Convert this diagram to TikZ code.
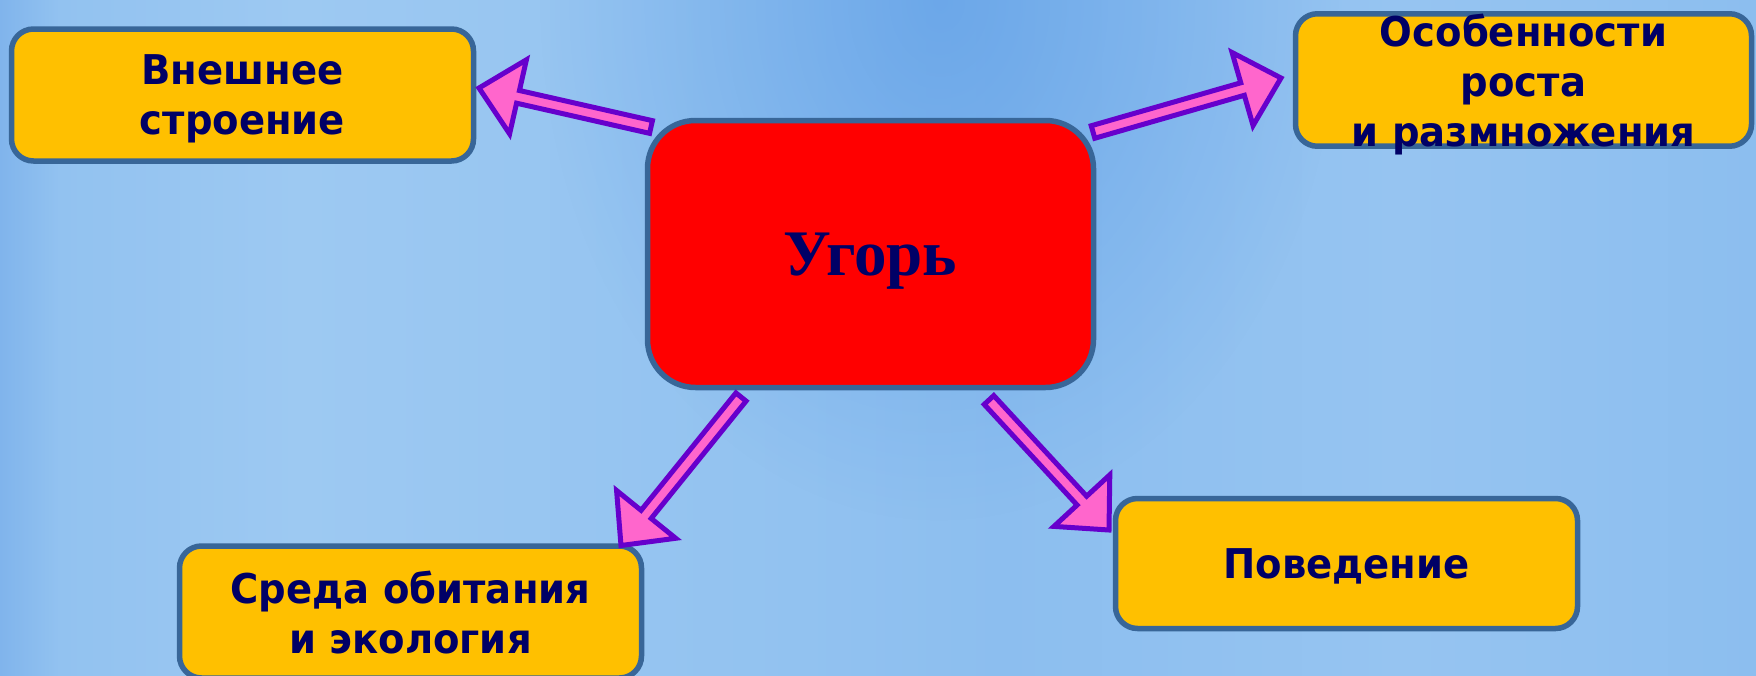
\documentclass[tikz,border=0pt]{standalone}
\usepackage{fontspec}
\usetikzlibrary{calc,fadings}
\newfontfamily\boxfont{DejaVu Sans}[FakeStretch=0.94]
\newfontfamily\titlefont{Liberation Serif}
\definecolor{boxfill}{HTML}{FFC000}
\definecolor{boxline}{HTML}{386698}
\definecolor{ink}{HTML}{000066}
\definecolor{arrowfill}{HTML}{FF66CC}
\definecolor{arrowline}{HTML}{6600CC}
\definecolor{skyA}{HTML}{80B4EC}
\definecolor{skyB}{HTML}{92C2F0}
\definecolor{skyC}{HTML}{9DC9F2}
\definecolor{skyD}{HTML}{92C2F0}
\definecolor{skyE}{HTML}{8CBEEF}
\definecolor{skyF}{HTML}{96C4F1}
\definecolor{skyG}{HTML}{8CBEEF}
\definecolor{skyH}{HTML}{5A9BE6}
\pgfdeclarehorizontalshading{sky}{100bp}{color(0bp)=(skyA); color(25bp)=(skyA); color(26.7bp)=(skyB); color(33.5bp)=(skyC); color(47.8bp)=(skyD); color(53.5bp)=(skyE); color(64.9bp)=(skyF); color(75bp)=(skyG); color(100bp)=(skyG)}
\tikzfading[name=glow, inner color=transparent!35, outer color=transparent!100]
\begin{document}
\begin{tikzpicture}[x=1pt,y=-1pt,line join=miter]
	\tikzset{topic/.style={draw=boxline,line width=5.5pt,fill=boxfill,rounded corners=22pt,
			minimum width=462pt,minimum height=132pt,inner sep=0pt,outer sep=0pt,align=center,
			text=ink,font=\boxfont\bfseries\fontsize{41}{50}\selectfont,text depth=0pt},
		hub/.style={draw=boxline,line width=5.5pt,fill=red,rounded corners=48pt,
			minimum width=446pt,minimum height=267pt,inner sep=0pt,outer sep=0pt,
			text=ink,font=\titlefont\bfseries\fontsize{65}{78}\selectfont,text depth=0pt},
		fatarrow/.style={draw=arrowline,fill=arrowfill,line width=5pt,
			to path={let \p1=($(\tikztotarget)!40pt!(\tikztostart)$) in
				($(\tikztostart)!6.5pt!90:(\tikztotarget)$) -- ($(\p1)!6.5pt!90:(\tikztotarget)$)
				-- ($(\p1)!38pt!90:(\tikztotarget)$) -- (\tikztotarget)
				-- ($(\p1)!38pt!-90:(\tikztotarget)$) -- ($(\p1)!6.5pt!-90:(\tikztotarget)$)
				-- ($(\tikztostart)!6.5pt!-90:(\tikztotarget)$) -- cycle}}}
	\useasboundingbox (0,0) rectangle (1756,675);
	\shade[shading=sky] (0,0) rectangle (1756,675);
	\fill[skyH,path fading=glow] (940,0) ellipse [x radius=400, y radius=520];

	\node[hub] (ugor) at (870.5,254) {Угорь};
	\node[topic] (outer) at (242.5,95) {Внешнее\\строение};
	\node[topic,minimum width=456pt] (growth) at (1523.5,80) {Особенности\\роста\\и размножения};
	\node[topic] (habitat) at (410.5,612) {Среда обитания\\и экология};
	\node[topic,minimum height=130pt] (behav) at (1346.5,563.5) {Поведение};

	\coordinate (a1s) at ($(ugor.north west)+(3.5,6.5)$);
	\coordinate (a1e) at ($(outer.east)+(5.5,-7)$);
	\coordinate (a2s) at ($(ugor.north east)+(-0.5,11.5)$);
	\coordinate (a2e) at ($(growth.west)+(-14.5,-2)$);
	\coordinate (a3s) at ($(ugor.south west)+(93.5,9.5)$);
	\coordinate (a3e) at ($(habitat.north east)+(-20.5,-0.5)$);
	\coordinate (a4s) at ($(ugor.south east)+(-104.5,12.5)$);
	\coordinate (a4e) at ($(behav.west)+(-6.5,-33.5)$);
	\draw[fatarrow] (a1s) to (a1e);
	\draw[fatarrow] (a2s) to (a2e);
	\draw[fatarrow] (a3s) to (a3e);
	\draw[fatarrow] (a4s) to (a4e);
\end{tikzpicture}
\end{document}
